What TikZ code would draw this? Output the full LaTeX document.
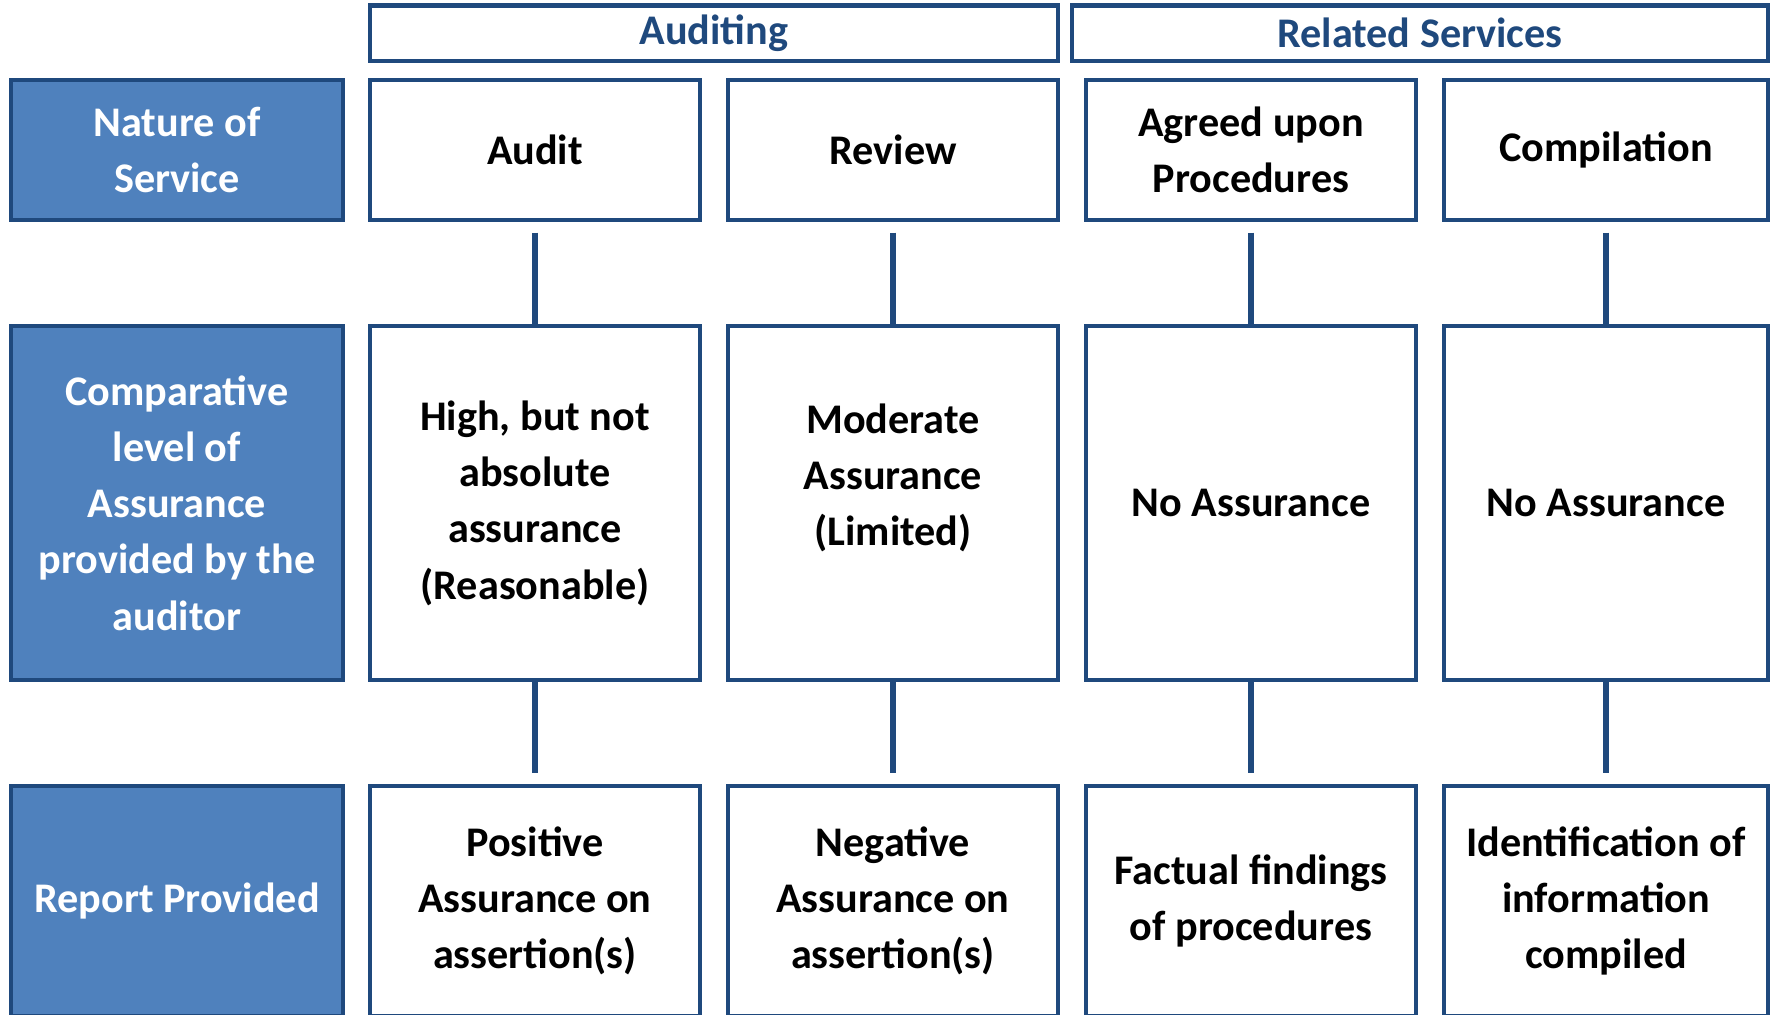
\documentclass[tikz,border=0pt]{standalone}
\usepackage{fontspec}
\setmainfont{Carlito}
\usepackage{xcolor}
\definecolor{boxline}{RGB}{31,73,125}
\definecolor{sidefill}{RGB}{79,129,189}

\begin{document}
\begin{tikzpicture}[x=0.01cm, y=-0.01cm,
    every node/.style={font=\bfseries\fontsize{12}{16}\selectfont, align=center, inner sep=0pt},
    hdr/.style={draw=boxline, line width=1.15pt, text=boxline, minimum height=0.55cm},
    side/.style={draw=boxline, line width=1.15pt, fill=sidefill, text=white, minimum width=3.31cm},
    cell/.style={draw=boxline, line width=1.15pt, fill=white, minimum width=3.3cm},
    link/.style={draw=boxline, line width=1.7pt}]
    \useasboundingbox (0,0) rectangle (1771,1014);
    % Headers
    \node[hdr, minimum width=6.88cm] (auditing) at (714,33) {Auditing};
    \node[hdr, minimum width=6.96cm] (related) at (1420,33) {Related Services};
    % Left column
    \node[side, minimum height=1.4cm] (nature) at (177,150) {Nature of\\Service};
    \node[side, minimum height=3.54cm] (level) at (177,503) {Comparative\\level of\\Assurance\\provided by the\\auditor};
    \node[side, minimum height=2.3cm] (report) at (177,901) {Report Provided};
    % Audit
    \node[cell, minimum height=1.4cm] (audit-nat) at (535,150) {Audit};
    \node[cell, minimum height=3.54cm] (audit-lvl) at (535,503) {High, but not\\absolute\\assurance\\(Reasonable)};
    \node[cell, minimum height=2.3cm] (audit-rep) at (535,901) {Positive\\Assurance on\\assertion(s)};
    % Review
    \node[cell, minimum height=1.4cm] (review-nat) at (893,150) {Review};
    \node[cell, minimum height=3.54cm] (review-lvl) at (893,503) {Moderate\\Assurance\\(Limited)\\\mbox{}};
    \node[cell, minimum height=2.3cm] (review-rep) at (893,901) {Negative\\Assurance on\\assertion(s)};
    % Agreed upon procedures
    \node[cell, minimum height=1.4cm] (agreed-nat) at (1251,150) {Agreed upon\\Procedures};
    \node[cell, minimum height=3.54cm] (agreed-lvl) at (1251,503) {No Assurance};
    \node[cell, minimum height=2.3cm] (agreed-rep) at (1251,901) {Factual findings\\of procedures};
    % Compilation
    \node[cell, minimum width=3.24cm, minimum height=1.4cm] (comp-nat) at (1606,150) {Compilation};
    \node[cell, minimum width=3.24cm, minimum height=3.54cm] (comp-lvl) at (1606,503) {No Assurance};
    \node[cell, minimum width=3.24cm, minimum height=2.3cm] (comp-rep) at (1606,901) {Identification of\\information\\compiled};
    % Links
    \foreach \c in {audit,review,agreed,comp} {
        \draw[link, shorten <=3pt] (\c-nat.south) -- (\c-lvl.north);
        \draw[link, shorten >=3pt] (\c-lvl.south) -- (\c-rep.north);
    }
\end{tikzpicture}
\end{document}
